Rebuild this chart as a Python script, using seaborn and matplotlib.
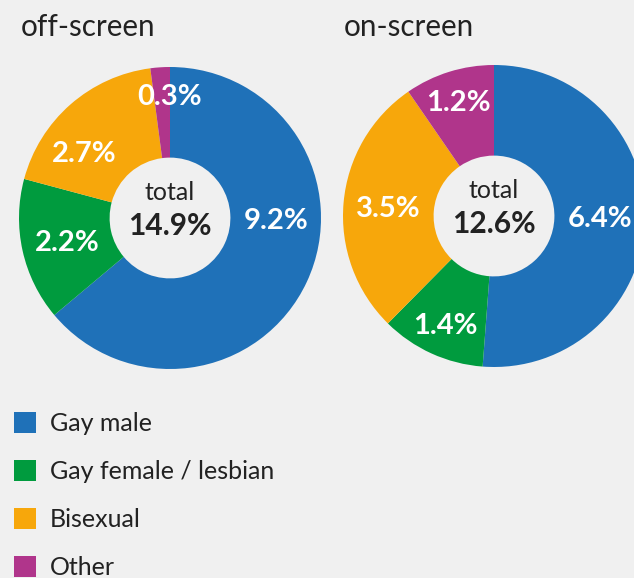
import numpy as np
import seaborn as sns
import matplotlib.pyplot as plt
from matplotlib.patches import Patch

# data
groups = ["Gay male", "Gay female / lesbian", "Bisexual", "Other"]
off_screen = [9.2, 2.2, 2.7, 0.3]
on_screen = [6.4, 1.4, 3.5, 1.2]
off_total = 14.9
on_total = 12.6
titles = ["off-screen", "on-screen"]

colors = ["#1f71b8", "#009b3e", "#f7a70b", "#b0358b"]
bg = "#f0f0f0"
ink = "#222222"

sns.set_style("white", {"axes.facecolor": bg, "figure.facecolor": bg})
plt.rcParams["font.family"] = ["Lato", "DejaVu Sans"]

W, H, DPI = 634, 578, 100
R = 151          # outer radius in px
HOLE = 0.4       # inner radius as share of outer


def label_angles(fracs, min_gap=52):
    # angles clockwise from 12 o'clock, in degrees
    edges = np.concatenate([[0], np.cumsum(fracs) * 360])
    ang = (edges[:-1] + edges[1:]) / 2
    for i, f in enumerate(fracs):
        # a big slice gets its label at 3 o'clock when it covers it
        if f > 0.5 and edges[i] <= 90 <= edges[i + 1]:
            ang[i] = 90
    for i in range(len(ang) - 1):
        gap = ang[i + 1] - ang[i]
        if gap < min_gap:
            need = min_gap - gap
            b = min(ang[i + 1] + need / 2, edges[i + 2])
            ang[i + 1] = b
            ang[i] = max(b - min_gap, edges[i])
    return ang


def donut(fig, cx, cy, values, total, title, tx):
    ax = fig.add_axes([(cx - R) / W, 1 - (cy + R) / H, 2 * R / W, 2 * R / H])
    ax.set_xlim(-1, 1)
    ax.set_ylim(-1, 1)
    ax.set_aspect("equal")
    ax.axis("off")
    ax.pie(values, colors=colors, startangle=90, counterclock=False, radius=1,
           wedgeprops=dict(width=1 - HOLE, linewidth=0))
    ax.set_xlim(-1, 1)
    ax.set_ylim(-1, 1)

    fracs = np.array(values) / np.sum(values)
    cap = 0.07
    for v, a in zip(values, label_angles(fracs)):
        t = np.deg2rad(a)
        r = (1 + HOLE) / 2 + 0.12 * abs(np.cos(t)) ** 4
        ax.text(r * np.sin(t), r * np.cos(t) - cap, f"{v:.1f}%", color="white",
                fontsize=21, fontweight="bold", ha="center", va="baseline")

    ax.text(0, 0.12, "total", color=ink, fontsize=18, ha="center", va="baseline")
    ax.text(0, -0.11, f"{total:.1f}%", color=ink, fontsize=21.5,
            fontweight="bold", ha="center", va="baseline")

    fig.text(tx / W, 1 - 36 / H, title, color=ink, fontsize=21.3,
             ha="left", va="baseline")


fig = plt.figure(figsize=(W / DPI, H / DPI), dpi=DPI)
fig.patch.set_facecolor(bg)

donut(fig, 170, 218, off_screen, off_total, titles[0], 21)
donut(fig, 494, 216, on_screen, on_total, titles[1], 344)

handles = [Patch(facecolor=c, edgecolor="none") for c in colors]
fig.legend(handles, groups, loc="upper left", bbox_to_anchor=(14 / W, 1 - 412 / H),
           frameon=False, fontsize=18, labelcolor=ink,
           handlelength=0.88, handleheight=0.88, handletextpad=0.55,
           labelspacing=1.0, borderpad=0, borderaxespad=0)

fig.savefig("out.png", dpi=DPI, facecolor=bg)
